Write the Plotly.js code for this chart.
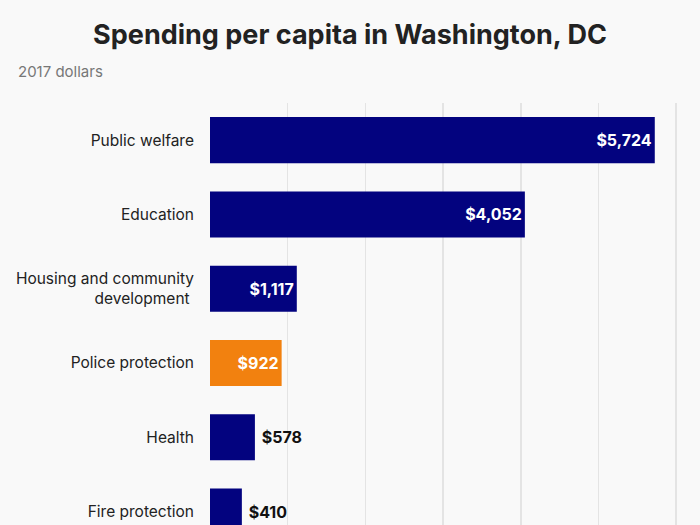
<!DOCTYPE html>
<html>
<head>
<meta charset="utf-8">
<script src="https://cdn.plot.ly/plotly-3.0.1.min.js"></script>
<style>
html,body{margin:0;padding:0;background:#f9f9f9;}
#chart{width:700px;height:525px;}
</style>
</head>
<body>
<div id="chart"></div>
<script>
const categories = ["Public welfare", "Education", "Housing and community<br>development ", "Police protection", "Health", "Fire protection"];
const values = [5724, 4052, 1117, 922, 578, 410];
const valueLabels = ["$5,724", "$4,052", "$1,117", "$922", "$578", "$410"];
const highlight = "Police protection";

const navy = "#03037f";
const orange = "#f2810f";
const barColors = categories.map(c => c === highlight ? orange : navy);
const isInside = values.map(v => v >= 900);
const textPos = isInside.map(b => b ? "inside" : "outside");
const textColors = isInside.map(b => b ? "#ffffff" : "#111111");
const templates = isInside.map(b => b ? "%{text}" : "\u00a0%{text}");

const trace = {
  type: "bar",
  orientation: "h",
  y: categories,
  x: values,
  text: valueLabels,
  texttemplate: templates,
  textposition: textPos,
  insidetextanchor: "end",
  textfont: {family: "Inter, 'Open Sans', sans-serif", size: 16, color: textColors, weight: 700},
  marker: {color: barColors},
  width: 0.62,
  cliponaxis: false,
  hoverinfo: "skip"
};

const layout = {
  width: 700,
  height: 525,
  paper_bgcolor: "#f9f9f9",
  plot_bgcolor: "#f9f9f9",
  margin: {l: 210, r: 0, t: 103, b: 0},
  showlegend: false,
  title: {
    text: "<b>Spending per capita in Washington, DC</b>",
    font: {family: "Inter, 'Open Sans', sans-serif", size: 27, color: "#222222"},
    x: 0.5, xanchor: "center", xref: "container",
    y: 1 - 35/525, yanchor: "middle", yref: "container"
  },
  annotations: [{
    text: "2017 dollars",
    xref: "paper", yref: "paper",
    x: (16 - 210) / 490, xanchor: "left",
    y: 1 + (103 - 71) / 422, yanchor: "middle",
    showarrow: false,
    font: {family: "Inter, 'Open Sans', sans-serif", size: 15, color: "#777777"}
  }],
  xaxis: {
    range: [0, 6306],
    tickvals: [0, 1000, 2000, 3000, 4000, 5000, 6000],
    showticklabels: false,
    showgrid: true,
    gridcolor: "#e4e4e4",
    gridwidth: 1.5,
    zeroline: false,
    showline: false,
    fixedrange: true
  },
  yaxis: {
    range: [5.18, -0.5],
    autorange: false,
    showgrid: false,
    zeroline: false,
    showline: false,
    ticks: "",
    ticklabelstandoff: 15,
    tickfont: {family: "Inter, 'Open Sans', sans-serif", size: 15.5, color: "#222222"},
    fixedrange: true
  },
  bargap: 0.38
};

Plotly.newPlot("chart", [trace], layout, {displayModeBar: false, staticPlot: true});
</script>
</body>
</html>
